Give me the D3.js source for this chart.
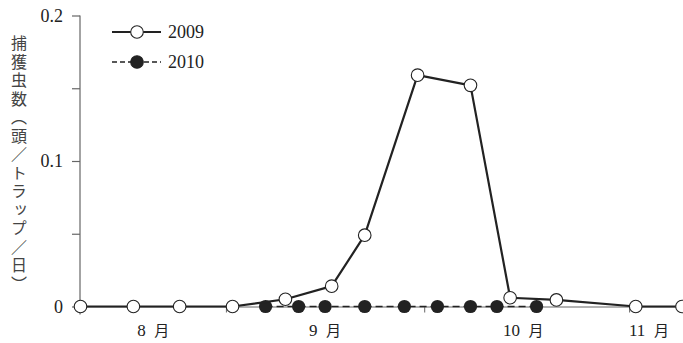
<!DOCTYPE html>
<html>
<head>
<meta charset="utf-8">
<script src="https://cdn.jsdelivr.net/npm/d3@7/dist/d3.min.js"></script>
<style>
  html, body { margin: 0; padding: 0; background: #fff; }
  svg { display: block; }
  svg text { font-family: "Liberation Serif", "Times New Roman", Times, serif; fill: #222; }
  svg text.cjk, svg tspan.cjk { font-family: "Noto Sans CJK JP", sans-serif; }
</style>
</head>
<body>
<svg id="chart" width="683" height="343"></svg>
<script>
// Daily trap catch, 2009 vs 2010 (same season, month-day only)
const dates2009 = ["08-10","08-18","08-25","09-02","09-10","09-17","09-22","09-30","10-08","10-14","10-21","11-02","11-09"];
const values2009 = [0, 0, 0, 0, 0.005, 0.014, 0.049, 0.159, 0.152, 0.006, 0.0045, 0, 0];
const dates2010 = ["09-07","09-12","09-16","09-22","09-28","10-03","10-08","10-12","10-18"];
const values2010 = [0, 0, 0, 0, 0, 0, 0, 0, 0];
const seriesNames = ["2009", "2010"];
const yTicks = [0, 0.05, 0.1, 0.15, 0.2];
const yTickLabels = ["0", "", "0.1", "", "0.2"];
const monthTicks = ["09-01", "10-01", "11-01"];
const monthLabelDates = ["08-21", "09-16", "10-16", "11-04"];
const monthNums = ["8", "9", "10", "11"];
const monthSuffix = "月";
const yTitle = "捕獲虫数（頭／トラップ／日）";

const parse = d3.timeParse("%m-%d");
const svg = d3.select("#chart");

const x = d3.scaleTime()
  .domain([parse("08-10"), parse("11-09")])
  .range([80.5, 682]);
const y = d3.scaleLinear().domain([0, 0.2]).range([306.5, 15.5]);

const ink = "#222";
const axisInk = "#666";

// x axis: baseline with month boundary ticks
const xAxis = svg.append("g")
  .attr("transform", `translate(0,${y(0)})`)
  .call(d3.axisBottom(x).tickValues(monthTicks.map(parse)).tickSize(6).tickFormat("").tickSizeOuter(0));
xAxis.attr("font-family", null).attr("font-size", null);
xAxis.select(".domain").attr("stroke", axisInk).attr("stroke-width", 1);
xAxis.selectAll(".tick line").attr("stroke", axisInk).attr("stroke-width", 1);

const months = xAxis.selectAll(".month")
  .data(monthNums)
  .join("text")
  .attr("class", "month")
  .attr("x", (d, i) => x(parse(monthLabelDates[i])))
  .attr("y", 29)
  .attr("text-anchor", "middle")
  .attr("font-size", 17);
months.append("tspan").text(d => d + "\u2002");
months.append("tspan").attr("class", "cjk").attr("font-size", 15).text(monthSuffix);

// y axis
const yAxis = svg.append("g")
  .attr("transform", `translate(80,0)`)
  .call(d3.axisLeft(y).tickValues(yTicks).tickSize(8).tickSizeOuter(0)
    .tickFormat((d, i) => yTickLabels[i]).tickPadding(9));
yAxis.attr("font-family", null).attr("font-size", null);
yAxis.select(".domain").attr("stroke", axisInk).attr("stroke-width", 1.2)
  .attr("d", `M0,${y(0.2)}V${y(0) + 8}`);
yAxis.selectAll(".tick line").attr("stroke", axisInk).attr("stroke-width", 1.2);
yAxis.selectAll(".tick text")
  .attr("font-size", 18)
  .attr("fill", ink);

// y title, set vertically
svg.append("text")
  .attr("class", "cjk")
  .attr("x", 19)
  .attr("y", 35)
  .attr("font-size", 16)
  .attr("letter-spacing", 2.5)
  .attr("opacity", 0.999)
  .style("writing-mode", "vertical-rl")
  .style("fill", "#444")
  .text(yTitle);

const line = d3.line().x(d => x(d.date)).y(d => y(d.value));
const s2009 = dates2009.map((d, i) => ({ date: parse(d), value: values2009[i] }));
const s2010 = dates2010.map((d, i) => ({ date: parse(d), value: values2010[i] }));

// 2010: dashed line, filled markers
svg.append("path").datum(s2010)
  .attr("d", line).attr("fill", "none")
  .attr("stroke", ink).attr("stroke-width", 1.6).attr("stroke-dasharray", "7,4");
svg.selectAll(".p2010").data(s2010).join("circle")
  .attr("class", "p2010")
  .attr("cx", d => x(d.date)).attr("cy", d => y(d.value))
  .attr("r", 6.6).attr("fill", ink);

// 2009: solid line, open markers
svg.append("path").datum(s2009)
  .attr("d", line).attr("fill", "none")
  .attr("stroke", ink).attr("stroke-width", 2.2).attr("stroke-linejoin", "round");
svg.selectAll(".p2009").data(s2009).join("circle")
  .attr("class", "p2009")
  .attr("cx", d => x(d.date)).attr("cy", d => y(d.value))
  .attr("r", 6.3).attr("fill", "#fff").attr("stroke", ink).attr("stroke-width", 1.1);

// legend
const legend = svg.append("g");
const legendRows = [
  { name: seriesNames[0], y: 32, dash: null, fill: "#fff", width: 2.2 },
  { name: seriesNames[1], y: 62, dash: "5,3", fill: ink, width: 1.6 }
];
legendRows.forEach(r => {
  legend.append("line")
    .attr("x1", 112).attr("x2", 161).attr("y1", r.y).attr("y2", r.y)
    .attr("stroke", ink).attr("stroke-width", r.width)
    .attr("stroke-dasharray", r.dash);
  legend.append("circle")
    .attr("cx", 137).attr("cy", r.y).attr("r", 6.3)
    .attr("fill", r.fill).attr("stroke", ink).attr("stroke-width", 1.1);
  legend.append("text")
    .attr("x", 168).attr("y", r.y + 6)
    .attr("font-size", 18)
    .text(r.name);
});
</script>
</body>
</html>
